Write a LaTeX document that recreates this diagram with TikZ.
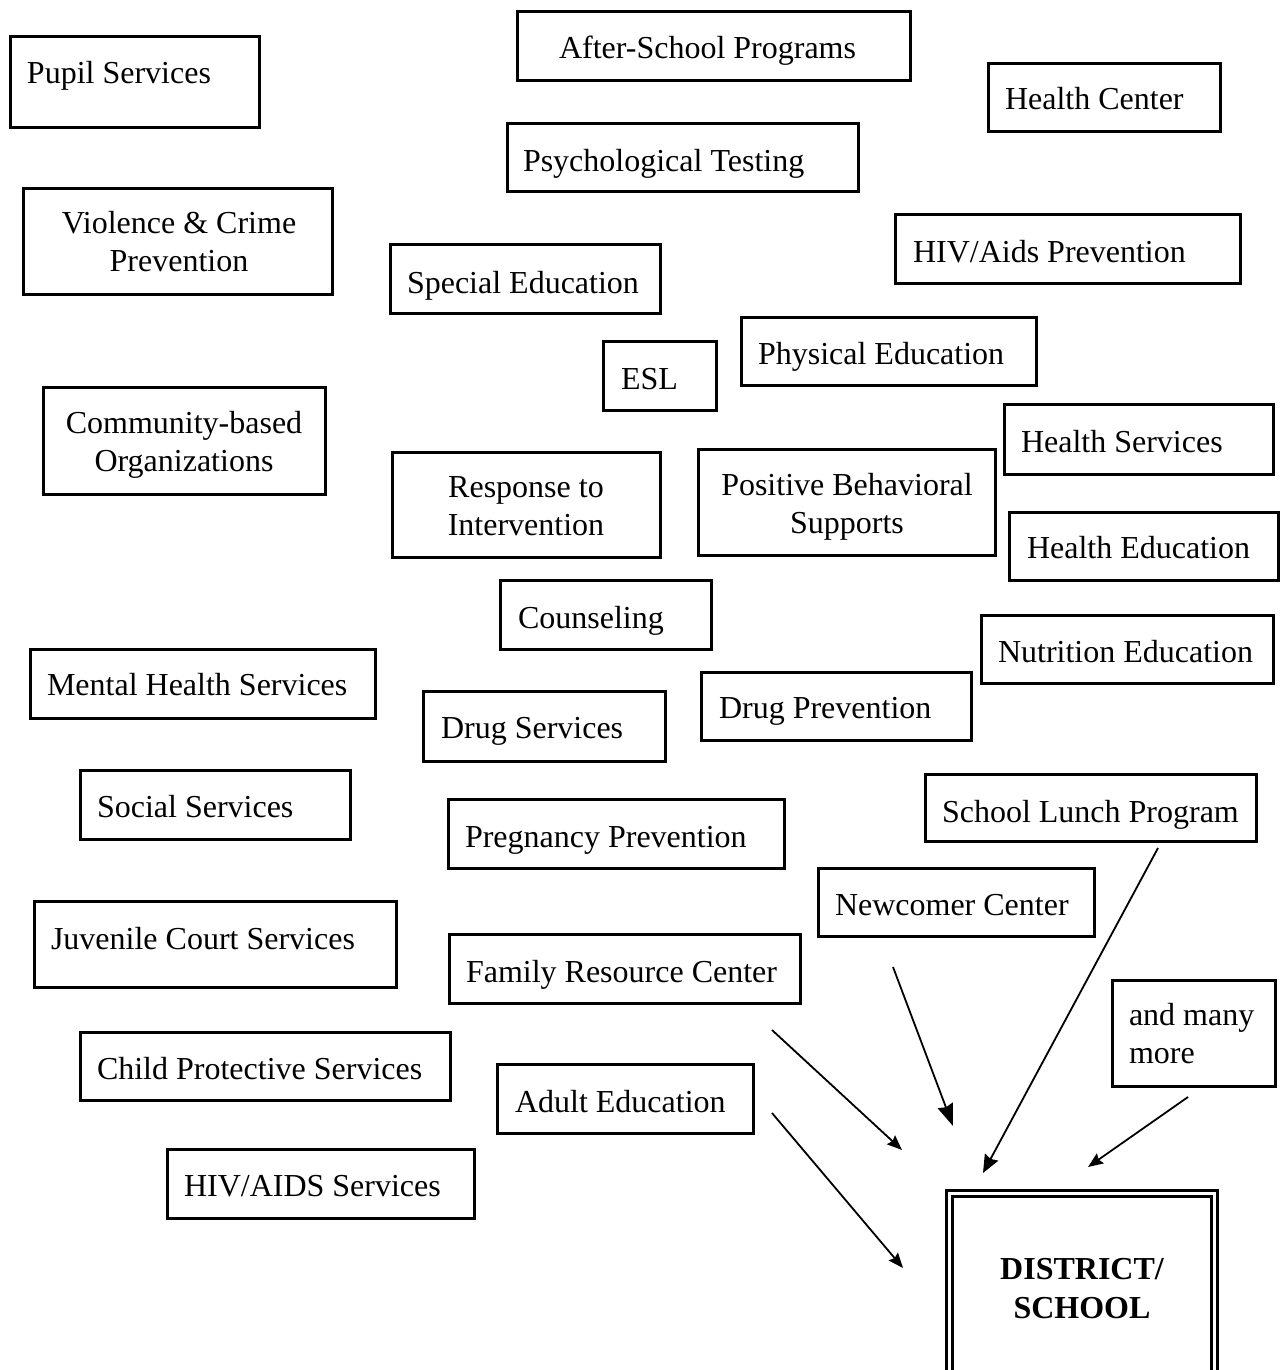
\documentclass[tikz,border=0pt]{standalone}
\usepackage{fontspec}
\setmainfont{Liberation Serif}
\usetikzlibrary{arrows.meta}

\tikzset{
  frame/.style={draw=black, line width=2.8pt, rectangle, inner sep=0pt, outer sep=0pt},
  caption/.style={inner sep=0pt, outer sep=0pt, font=\fontsize{32}{37.5}\selectfont},
  twoline/.style={caption, align=center},
  twolineleft/.style={caption, align=left},
  districtframe/.style={draw=black, line width=3pt, double=white, double distance=3pt,
    rectangle, inner sep=0pt, outer sep=0pt},
  feed/.style={draw=black, line width=1.8pt,
    -{Stealth[length=15pt, width=12pt, inset=2pt]}},
  bigfeed/.style={draw=black, line width=1.8pt,
    -{Stealth[length=22pt, width=16pt, inset=2pt]}},
  midfeed/.style={draw=black, line width=1.8pt,
    -{Stealth[length=18pt, width=15pt, inset=2pt]}},
}

% frame from (x1,y1) to (x2,y2) and one line of text whose baseline starts at (tx,ty)
\newcommand{\svcbox}[8]{%
  \node[frame, minimum width={#4-#2-3}, minimum height={#5-#3-3}]
    (#1) at ({(#2+#4)/2},{(#3+#5)/2}) {};
  \node[caption, anchor=base west] (#1-text) at (#6,#7) {#8};
}
% frame and a centred two-line text (ty is the baseline of the last line)
\newcommand{\svcboxtwo}[8]{%
  \node[frame, minimum width={#4-#2-3}, minimum height={#5-#3-3}]
    (#1) at ({(#2+#4)/2},{(#3+#5)/2}) {};
  \node[twoline, anchor=base] (#1-text) at (#6,#7) {#8};
}

\begin{document}
\begin{tikzpicture}[x=1pt, y=-1pt]
  \useasboundingbox (0,0) rectangle (1285,1370);
  \path[clip] (0,0) rectangle (1285,1370);

  \svcbox{pupil}{9}{35}{261}{129}{27}{84}{Pupil Services}
  \svcbox{afterschool}{516}{10}{912}{82}{559}{59}{After-School Programs}
  \svcbox{healthcenter}{987}{62}{1222}{133}{1005}{110}{Health Center}
  \svcbox{psych}{506}{122}{860}{193}{523}{171}{Psychological Testing}
  \svcboxtwo{violence}{22}{187}{334}{296}{179}{271}{Violence \& Crime\\Prevention}
  \svcbox{hivprev}{894}{213}{1242}{285}{913}{262}{HIV/Aids Prevention}
  \svcbox{sped}{389}{243}{662}{315}{407}{293}{Special Education}
  \svcbox{physed}{740}{316}{1038}{387}{758}{364}{Physical Education}
  \svcbox{esl}{602}{340}{718}{412}{621}{389}{ESL}
  \svcboxtwo{cbo}{42}{386}{327}{496}{184}{471}{Community-based\\Organizations}
  \svcbox{healthserv}{1003}{403}{1275}{476}{1021}{452}{Health Services}
  \svcboxtwo{rti}{391}{451}{662}{559}{526}{535}{Response to\\Intervention}
  \svcboxtwo{pbs}{697}{448}{997}{557}{847}{533}{Positive Behavioral\\Supports}
  \svcbox{healthedu}{1008}{511}{1280}{582}{1027}{558}{Health Education}
  \svcbox{counsel}{499}{579}{713}{651}{518}{628}{Counseling}
  \svcbox{nutrition}{980}{614}{1275}{685}{998}{662}{Nutrition Education}
  \svcbox{mental}{29}{648}{377}{720}{47}{695}{Mental Health Services}
  \svcbox{drugprev}{700}{671}{973}{742}{719}{718}{Drug Prevention}
  \svcbox{drugserv}{422}{690}{667}{763}{441}{738}{Drug Services}
  \svcbox{social}{79}{769}{352}{841}{97}{817}{Social Services}
  \svcbox{lunch}{924}{773}{1258}{843}{942}{822}{School Lunch Program}
  \svcbox{pregnancy}{447}{798}{786}{870}{465}{847}{Pregnancy Prevention}
  \svcbox{newcomer}{817}{867}{1096}{938}{835}{915}{Newcomer Center}
  \svcbox{juvenile}{33}{900}{398}{989}{51}{949}{Juvenile Court Services}
  \svcbox{family}{448}{933}{802}{1005}{466}{982}{Family Resource Center}
  \svcbox{cps}{79}{1031}{452}{1102}{97}{1079}{Child Protective Services}
  \svcbox{adult}{496}{1063}{755}{1135}{515}{1112}{Adult Education}
  \svcbox{hivserv}{166}{1148}{476}{1220}{184}{1196}{HIV/AIDS Services}

  % "and many more" with left-aligned lines
  \node[frame, minimum width=163, minimum height=106] (more) at (1194,1033.5) {};
  \node[twolineleft, anchor=base west] (more-text) at (1129,1063) {and many\\more};

  % the district/school box, running off the lower edge
  \node[districtframe, minimum width=265, minimum height=220, anchor=north]
    (district) at (1082,1193.5) {};
  \node[twoline, font=\fontsize{32}{39}\selectfont\bfseries, anchor=base]
    (district-text) at (1082,1318) {DISTRICT/\\SCHOOL};

  % loose arrows pointing at the district box
  \coordinate (a1s) at (772,1030); \coordinate (a1e) at (902,1150);
  \coordinate (a2s) at (772,1113); \coordinate (a2e) at (903,1268);
  \coordinate (a3s) at (893,967);  \coordinate (a3e) at (953,1126);
  \coordinate (a4s) at (1158,848); \coordinate (a4e) at (983,1173);
  \coordinate (a5s) at (1188,1097);\coordinate (a5e) at (1088,1167);

  \draw[feed] (a1s) -- (a1e);
  \draw[feed] (a2s) -- (a2e);
  \draw[bigfeed] (a3s) -- (a3e);
  \draw[midfeed] (a4s) -- (a4e);
  \draw[feed] (a5s) -- (a5e);
\end{tikzpicture}
\end{document}
